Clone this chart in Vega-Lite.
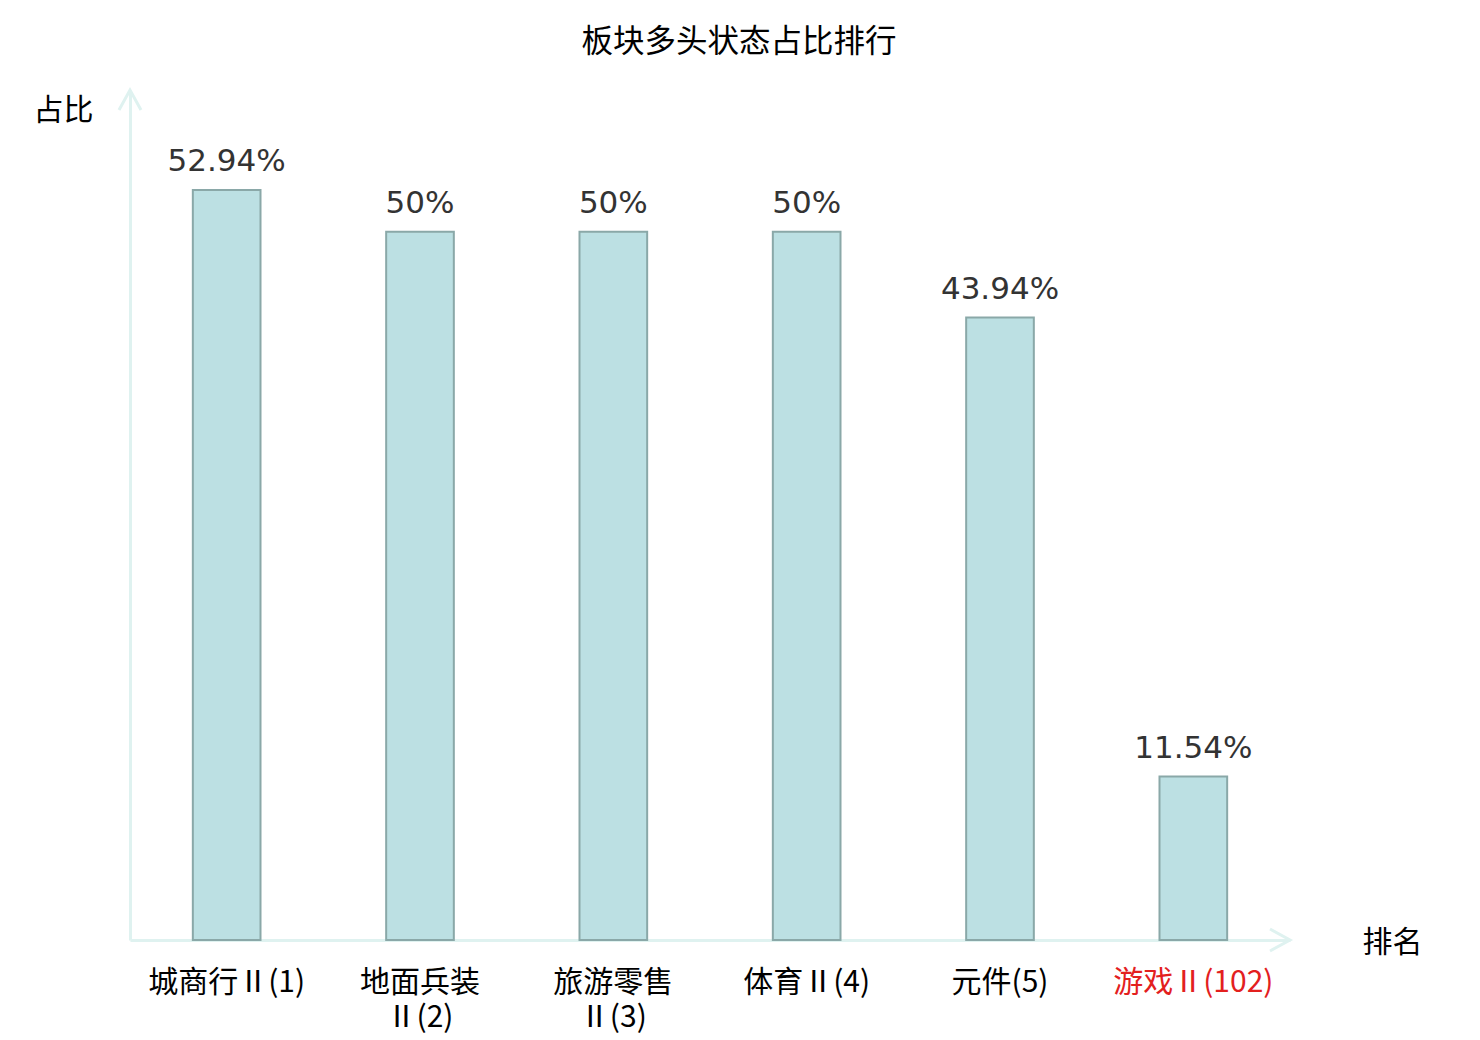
{
  "$schema": "https://vega.github.io/schema/vega-lite/v6.json",
  "width": 1160,
  "height": 850,
  "autosize": {"type": "none"},
  "padding": {"left": 130, "top": 90, "right": 190, "bottom": 100},
  "background": "white",
  "config": {"view": {"stroke": null}},
  "title": {
    "text": "板块多头状态占比排行",
    "font": "Noto Sans CJK SC",
    "fontSize": 31.5,
    "fontWeight": "normal",
    "color": "#000000",
    "anchor": "middle",
    "frame": "group",
    "dx": 29,
    "baseline": "alphabetic",
    "offset": 1
  },
  "datasets": {
    "bars": [
      {"name": "城商行Ⅱ(1)", "value": 52.94, "label": "52.94%"},
      {"name": "地面兵装Ⅱ(2)", "value": 50, "label": "50%"},
      {"name": "旅游零售Ⅱ(3)", "value": 50, "label": "50%"},
      {"name": "体育Ⅱ(4)", "value": 50, "label": "50%"},
      {"name": "元件(5)", "value": 43.94, "label": "43.94%"},
      {"name": "游戏Ⅱ(102)", "value": 11.54, "label": "11.54%"}
    ],
    "arrows": [
      {"ax": 0, "ay": 60, "dir": "up"},
      {"ax": 1, "ay": 0, "dir": "right"}
    ]
  },
  "layer": [
    {
      "data": {"name": "bars"},
      "mark": {"type": "bar", "width": {"band": 0.35}, "fill": "#bce0e3", "stroke": "#8aa8a8", "strokeWidth": 2},
      "encoding": {
        "x": {
          "field": "name", "type": "nominal", "sort": null,
          "scale": {"paddingInner": 0, "paddingOuter": 0},
          "axis": {
            "title": "排名",
            "titleFont": "Noto Sans CJK SC",
            "titleFontSize": 30,
            "titleFontWeight": "normal",
            "titleColor": "#000000",
            "titleAngle": 0,
            "titleX": 1262,
            "titleY": 2,
            "titleAlign": "center",
            "titleBaseline": "middle",
            "labelAngle": 0,
            "labelFont": "Noto Sans CJK SC",
            "labelFontSize": 30,
            "labelColor": {"expr": "datum.value == '游戏Ⅱ(102)' ? '#e3201e' : '#000000'"},
            "labelBaseline": "top",
            "labelPadding": 27,
            "labelLineHeight": 35,
            "labelLimit": 400,
            "labelExpr": "indexof(datum.label,'Ⅱ') >= 4 ? [slice(datum.label,0,indexof(datum.label,'Ⅱ')), slice(datum.label,indexof(datum.label,'Ⅱ'))] : datum.label",
            "ticks": false,
            "grid": false,
            "domainColor": "#dff2f0",
            "domainWidth": 3
          }
        },
        "y": {
          "field": "value", "type": "quantitative",
          "scale": {"domain": [0, 60]},
          "axis": {
            "title": "占比",
            "titleFont": "Noto Sans CJK SC",
            "titleFontSize": 30,
            "titleFontWeight": "normal",
            "titleColor": "#000000",
            "titleAngle": 0,
            "titleX": -67,
            "titleY": 20,
            "titleAlign": "center",
            "titleBaseline": "middle",
            "labels": false,
            "ticks": false,
            "grid": false,
            "domainColor": "#dff2f0",
            "domainWidth": 3
          }
        }
      }
    },
    {
      "data": {"name": "bars"},
      "mark": {"type": "text", "font": "DejaVu Sans", "fontSize": 31, "color": "#333333", "baseline": "alphabetic", "dy": -19},
      "encoding": {
        "x": {"field": "name", "type": "nominal", "sort": null, "scale": {"paddingInner": 0, "paddingOuter": 0}, "axis": null},
        "y": {"field": "value", "type": "quantitative"},
        "text": {"field": "label"}
      }
    },
    {
      "data": {"name": "arrows"},
      "mark": {"type": "point", "filled": false, "stroke": "#dff2f0", "strokeWidth": 3, "size": 1600, "opacity": 1, "strokeCap": "butt"},
      "encoding": {
        "x": {"field": "ax", "type": "quantitative", "scale": {"domain": [0, 1], "nice": false, "zero": false}, "axis": null},
        "y": {"field": "ay", "type": "quantitative"},
        "shape": {
          "field": "dir", "type": "nominal",
          "scale": {"domain": ["up", "right"], "range": ["M-0.55,1L0,0L0.55,1", "M-1,-0.55L0,0L-1,0.55"]},
          "legend": null
        }
      }
    }
  ],
  "resolve": {"scale": {"x": "independent"}}
}
